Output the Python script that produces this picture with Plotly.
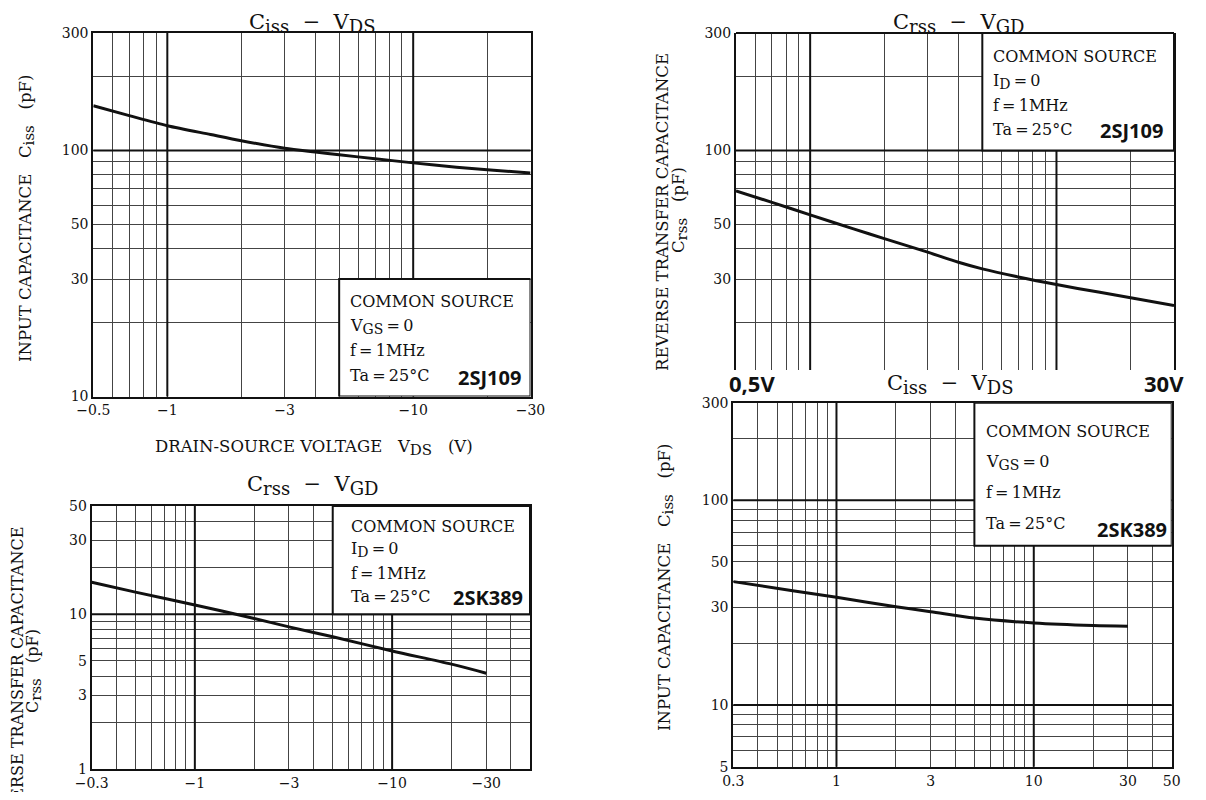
import math
import plotly.graph_objects as go

# ---------------- data ----------------
# Panel 1: Ciss - VDS, 2SJ109 (|VDS| in V, Ciss in pF)
vds_2sj109 = [0.5, 0.7, 1, 1.5, 2, 3, 4, 5, 7, 10, 15, 20, 30]
ciss_2sj109 = [152, 138.5, 126, 116, 109.5, 102, 98.5, 96, 92.5, 89, 85.5, 83.5, 81]

# Panel 2: Crss - VGD, 2SJ109
vgd_2sj109 = [0.5, 0.7, 1, 1.5, 2, 3, 4, 5, 7, 10, 15, 20, 30]
crss_2sj109 = [68.5, 61.5, 54.7, 48.0, 43.8, 38.6, 35.1, 33.0, 30.6, 28.5, 26.5, 25.2, 23.4]

# Panel 3: Crss - VGD, 2SK389
vgd_2sk389 = [0.3, 0.5, 1, 2, 3, 5, 10, 20, 30]
crss_2sk389 = [16.1, 13.9, 11.5, 9.4, 8.3, 7.16, 5.8, 4.77, 4.17]

# Panel 4: Ciss - VDS, 2SK389
vds_2sk389 = [0.3, 0.6, 1, 2, 3, 5, 10, 20, 30]
ciss_2sk389 = [40.1, 36.2, 33.6, 30.2, 28.6, 26.6, 25.2, 24.5, 24.3]

# tick values / labels
x1_ticks = [0.5, 1, 3, 10, 30]
x1_text = ["\u22120.5", "\u22121", "\u22123", "\u221210", "\u221230"]
y1_ticks = [10, 30, 50, 100, 300]
y2_ticks = [30, 50, 100, 300]
x3_ticks = [0.3, 1, 3, 10, 30]
x3_text = ["\u22120.3", "\u22121", "\u22123", "\u221210", "\u221230"]
y3_ticks = [1, 3, 5, 10, 30, 50]
x4_ticks = [0.3, 1, 3, 10, 30, 50]
x4_text = ["0.3", "1", "3", "10", "30", "50"]
y4_ticks = [5, 10, 30, 50, 100, 300]

# grid lines
grid_x_05_30 = [0.6, 0.7, 0.8, 0.9, 2, 4, 5, 6, 7, 8, 9, 20]
grid_y_10_300 = [20, 40, 60, 70, 80, 90, 200]
grid_x_03_50 = [0.4, 0.5, 0.6, 0.7, 0.8, 0.9, 2, 4, 5, 6, 7, 8, 9, 20, 40]
grid_y_1_50 = [2, 4, 6, 7, 8, 9, 20, 40]
grid_y_5_300 = [6, 7, 8, 9, 20, 40, 60, 70, 80, 90, 200]

# the page body keeps its default 8px margin; the figure fills the rest of the window
OFF = 8
W, H = 1206 - 2 * OFF, 800 - 2 * OFF
SERIF = "DejaVu Serif"
SANS = "Open Sans"
INK = "#111111"
GRID = "#444444"

fig = go.Figure()

def px_dom_x(a, b):
    return [(a - OFF) / W, (b - OFF) / W]

def px_dom_y(top, bottom):
    return [1 - (bottom - OFF) / H, 1 - (top - OFF) / H]

def P(xpx, ypx):
    return (xpx - OFF) / W, 1 - (ypx - OFF) / H

panels = [
    dict(s="", xd=(93.3, 530.5), yd=(33, 396.5), xr=(0.5, 30), yr=(10, 300),
         xt=x1_ticks, xtt=x1_text, yt=y1_ticks, gx=grid_x_05_30, gy=grid_y_10_300,
         xlab=True, box=(5, 30, 10, 30), bold_x=[1, 10], bold_y=[100]),
    dict(s="2", xd=(736, 1174), yd=(33, 370), xr=(0.5, 30), yr=(10 ** 1.1077, 300),
         xt=x1_ticks, xtt=x1_text, yt=y2_ticks, gx=grid_x_05_30, gy=grid_y_10_300,
         xlab=False, box=(5, 30, 100, 300), bold_x=[1, 10], bold_y=[100]),
    dict(s="3", xd=(91.7, 530), yd=(506, 769.3), xr=(0.3, 50), yr=(1, 50),
         xt=x3_ticks, xtt=x3_text, yt=y3_ticks, gx=grid_x_03_50, gy=grid_y_1_50,
         xlab=True, box=(5, 50, 10, 50), bold_x=[1, 10], bold_y=[10]),
    dict(s="4", xd=(733.3, 1171.7), yd=(402.7, 766.7), xr=(0.3, 50), yr=(5, 300),
         xt=x4_ticks, xtt=x4_text, yt=y4_ticks, gx=grid_x_03_50, gy=grid_y_5_300,
         xlab=True, box=(5, 50, 60, 300), bold_x=[1, 10], bold_y=[10, 100]),
]

curves = [(vds_2sj109, ciss_2sj109), (vgd_2sj109, crss_2sj109),
          (vgd_2sk389, crss_2sk389), (vds_2sk389, ciss_2sk389)]

shapes = []
for p, (cx, cy) in zip(panels, curves):
    s = p["s"]
    xa = "xaxis" + s
    ya = "yaxis" + s
    xref = "x" + s
    yref = "y" + s
    full_frame = s != "2"
    fig.add_trace(go.Scatter(x=cx, y=cy, mode="lines", xaxis=xref, yaxis=yref,
                             line=dict(color=INK, width=3, shape="spline", smoothing=0.8),
                             showlegend=False, hoverinfo="skip"))
    fig.layout[xa] = dict(
        domain=px_dom_x(*p["xd"]), anchor=yref, type="log", automargin=False,
        range=[math.log10(p["xr"][0]), math.log10(p["xr"][1])],
        tickmode="array", tickvals=p["xt"], ticktext=p["xtt"],
        showticklabels=p["xlab"], ticks="",
        showgrid=True, gridcolor=GRID, gridwidth=1,
        minor=dict(tickmode="array", tickvals=p["gx"], showgrid=True, gridcolor=GRID, gridwidth=1, ticks=""),
        showline=full_frame, mirror=full_frame, linecolor=INK, linewidth=2,
        zeroline=False, fixedrange=True,
        tickfont=dict(family=SERIF, size=14, color=INK),
    )
    fig.layout[ya] = dict(
        domain=px_dom_y(*p["yd"]), anchor=xref, type="log", automargin=False,
        range=[math.log10(p["yr"][0]), math.log10(p["yr"][1])],
        tickmode="array", tickvals=p["yt"], ticktext=[str(v) for v in p["yt"]], ticks="",
        showgrid=True, gridcolor=GRID, gridwidth=1,
        minor=dict(tickmode="array", tickvals=p["gy"], showgrid=True, gridcolor=GRID, gridwidth=1, ticks=""),
        showline=True, mirror=True, linecolor=INK, linewidth=2,
        zeroline=False, fixedrange=True,
        tickfont=dict(family=SERIF, size=14, color=INK),
    )
    # bold decade lines
    for bx in p["bold_x"]:
        shapes.append(dict(type="line", layer="above", xref=xref, yref=yref + " domain",
                           x0=bx, x1=bx, y0=0, y1=1, line=dict(color=INK, width=2)))
    for by in p["bold_y"]:
        shapes.append(dict(type="line", layer="above", xref=xref + " domain", yref=yref,
                           x0=0, x1=1, y0=by, y1=by, line=dict(color=INK, width=2)))
    # condition box (white, hides the grid behind it)
    bx0, bx1, by0, by1 = p["box"]
    shapes.append(dict(type="rect", layer="above", xref=xref, yref=yref,
                       x0=bx0, x1=bx1, y0=by0, y1=by1,
                       fillcolor="white", line=dict(color=INK, width=2)))
    if not full_frame:
        shapes.append(dict(type="line", layer="above", xref=xref + " domain", yref=yref + " domain",
                           x0=0, x1=1, y0=1, y1=1, line=dict(color=INK, width=2)))

fig.update_layout(shapes=shapes)

ann = []

def txt(text, x, y, size=16, family=SERIF, xanchor="left", yanchor="middle",
        xref="paper", yref="paper", angle=0, bold=False):
    if bold:
        text = "<b>" + text + "</b>"
    ann.append(dict(text=text, x=x, y=y, xref=xref, yref=yref, xanchor=xanchor, yanchor=yanchor,
                    showarrow=False, textangle=angle,
                    font=dict(family=family, size=size, color=INK)))

def sub(t, size):
    return "<sub><span style='font-size:%gpx'>%s</span></sub>" % (size, t)

NB = "\u00a0"
EQ = "\u2009=\u2009"

# titles (top row pinned to the top edge so they are not clipped)
TS = 21
t_ciss = "C" + sub("iss", 18) + NB * 2 + "\u2212" + NB * 2 + "V" + sub("DS", 18)
t_crss = "C" + sub("rss", 18) + NB * 2 + "\u2212" + NB * 2 + "V" + sub("GD", 18)
x, _ = P(312, 0)
txt(t_ciss, x, 1.0, size=TS, xanchor="center", yanchor="top")
x, _ = P(958, 0)
txt(t_crss, x, 1.0, size=TS, xanchor="center", yanchor="top")
x, y = P(312, 485)
txt(t_crss, x, y, size=TS, xanchor="center")
x, y = P(950, 384)
txt(t_ciss, x, y, size=TS, xanchor="center")

# axis titles
AS = 16.5
x, y = P(314, 448)
txt("DRAIN-SOURCE" + NB + "VOLTAGE" + NB * 3 + "V" + sub("DS", 15) + NB * 3 + "(V)", x, y, size=AS, xanchor="center")
x, y = P(27, 219)
txt("INPUT" + NB + "CAPACITANCE" + NB * 3 + "C" + sub("iss", 15) + NB * 3 + "(pF)", x, y, size=AS,
    xanchor="center", angle=-90)
x, y = P(666, 588)
txt("INPUT" + NB + "CAPACITANCE" + NB * 3 + "C" + sub("iss", 15) + NB * 3 + "(pF)", x, y, size=AS,
    xanchor="center", angle=-90)
x, y = P(662, 212)
txt("REVERSE" + NB + "TRANSFER" + NB + "CAPACITANCE", x, y, size=AS, xanchor="center", angle=-90)
x, y = P(680, 210)
txt("C" + sub("rss", 15) + NB * 3 + "(pF)", x, y, size=AS, xanchor="center", angle=-90)
x, y = P(17, 681)
txt("REVERSE" + NB + "TRANSFER" + NB + "CAPACITANCE", x, y, size=16, xanchor="center", angle=-90)
x, y = P(34, 671)
txt("C" + sub("rss", 15) + NB * 3 + "(pF)", x, y, size=16, xanchor="center", angle=-90)

# condition boxes
cond = [
    ("", 0.5826, [0.2627, 0.1939, 0.1252, 0.0564], "V" + sub("GS", 14) + EQ + "0", "2SJ109", 0.9828, 0.0536),
    ("2", 0.5822, [0.9288, 0.8546, 0.7834, 0.7122], "I" + sub("D", 14) + EQ + "0", "2SJ109", 0.9795, 0.7092),
    ("3", 0.5870, [0.9214, 0.8329, 0.7443, 0.6577], "I" + sub("D", 14) + EQ + "0", "2SK389", 0.9886, 0.6506),
    ("4", 0.5719, [0.9203, 0.8370, 0.7527, 0.6687], "V" + sub("GS", 14) + EQ + "0", "2SK389", 0.9938, 0.6522),
]
for s, lx, ys, second, part, px_, py_ in cond:
    lines = ["COMMON" + NB + "SOURCE", second, "f" + EQ + "1MHz", "Ta" + EQ + "25°C"]
    for t, yy in zip(lines, ys):
        txt(t, lx, yy, size=16, xref="x" + s + " domain", yref="y" + s + " domain")
    txt(part, px_, py_, size=20, family=SANS, xanchor="right", bold=True,
        xref="x" + s + " domain", yref="y" + s + " domain")

# voltage markers under panel 2
x, y = P(752, 383)
txt("0,5V", x, y, size=22, family=SANS, xanchor="center", bold=True)
x, y = P(1164, 383)
txt("30V", x, y, size=22, family=SANS, xanchor="center", bold=True)

fig.update_layout(
    annotations=ann,
    width=W, height=H,
    margin=dict(l=0, r=0, t=0, b=0, autoexpand=False),
    paper_bgcolor="white", plot_bgcolor="white",
    showlegend=False,
)

fig.write_html("out.html", config={"displayModeBar": False, "responsive": False})
